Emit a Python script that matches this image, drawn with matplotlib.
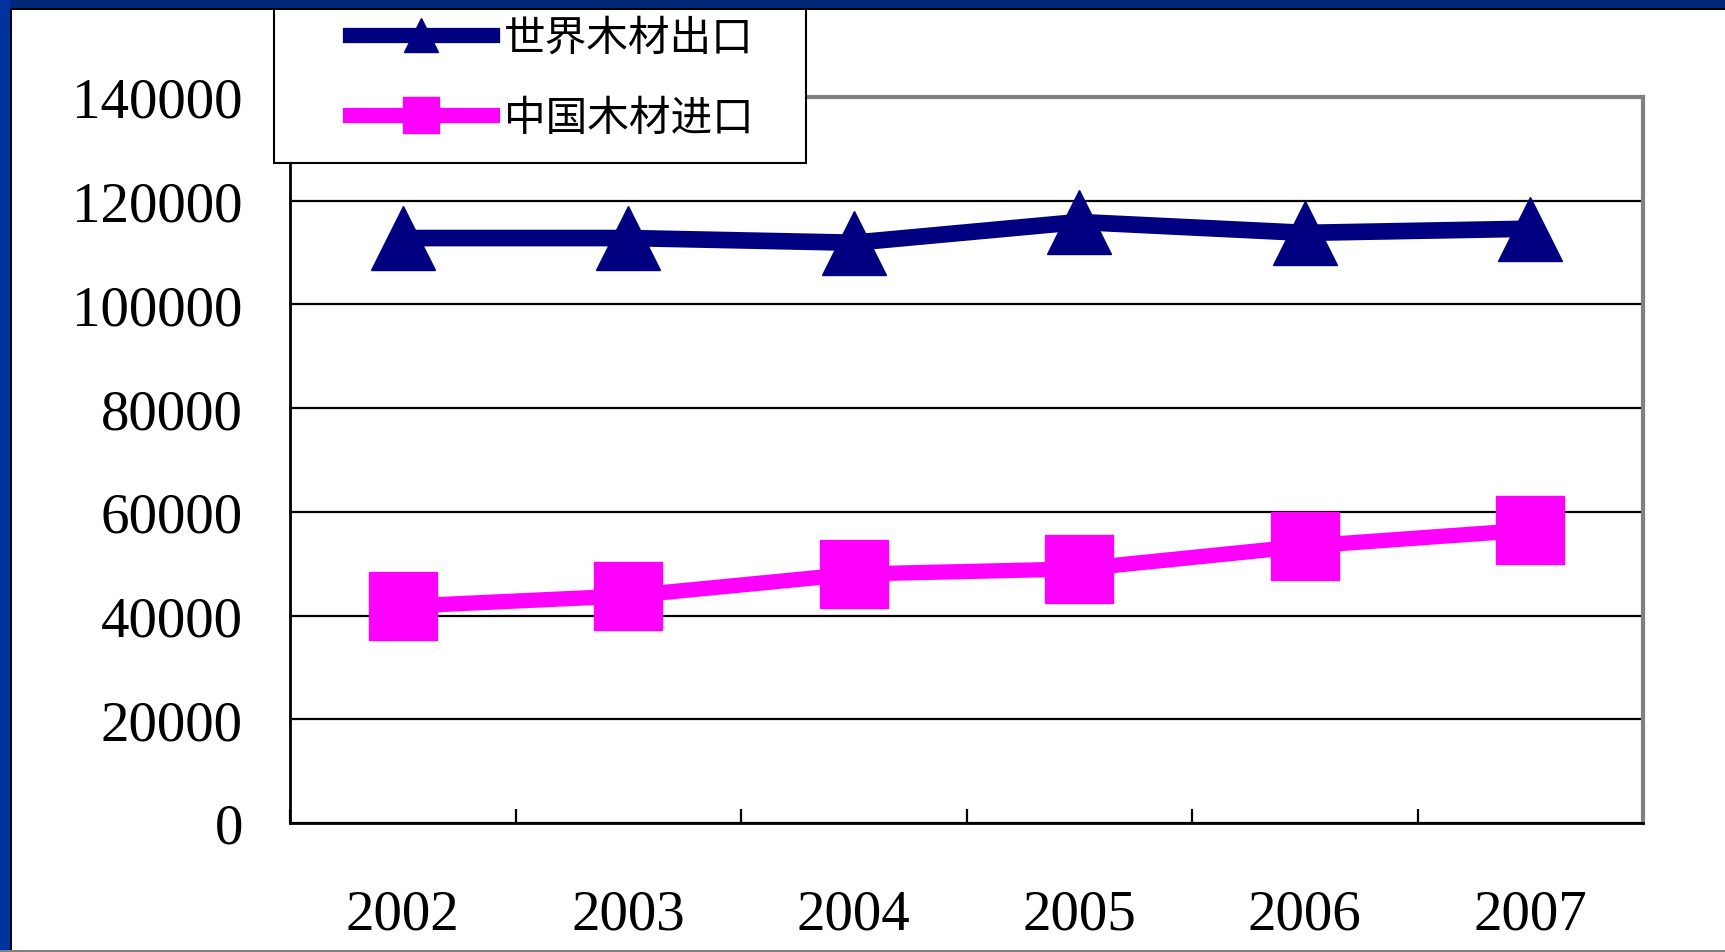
import matplotlib
matplotlib.use("Agg")
import matplotlib.pyplot as plt
from matplotlib.lines import Line2D
from matplotlib.patches import Rectangle

# ----------------------------
# Data
# ----------------------------
years = ["2002", "2003", "2004", "2005", "2006", "2007"]
world_export = [112800, 112800, 111900, 115900, 113800, 114600]
china_import = [41800, 43800, 48000, 49000, 53400, 56500]
series_names = ["世界木材出口", "中国木材进口"]
y_ticks = [0, 20000, 40000, 60000, 80000, 100000, 120000, 140000]

NAVY = "#000080"
MAGENTA = "#FF00FF"
W, H = 1725, 953

fig = plt.figure(figsize=(W / 100, H / 100), dpi=100)
fig.patch.set_facecolor("white")

# plot area in pixel coords -> figure fractions
x0, x1, ytop, ybot = 290, 1643, 98, 824
ax = fig.add_axes([x0 / W, 1 - ybot / H, (x1 - x0) / W, (ybot - ytop) / H])

xs = list(range(len(years)))
ax.plot(xs, world_export, color=NAVY, lw=12, marker="^", ms=46,
        solid_joinstyle="miter", zorder=4)
ax.plot(xs, china_import, color=MAGENTA, lw=11, marker="s", ms=49,
        solid_joinstyle="miter", zorder=3)

ax.set_xlim(-0.5, len(years) - 0.5)
ax.set_ylim(0, 140000)

# y axis
ax.set_yticks(y_ticks)
ax.set_yticklabels([str(v) for v in y_ticks])
ax.tick_params(axis="y", length=0, pad=34)
ax.grid(axis="y", color="black", lw=1.6, zorder=1)

# x axis: labels at category centres, tick marks at boundaries (inward)
ax.set_xticks(xs)
ax.set_xticklabels(years)
ax.set_xticks([i - 0.5 for i in range(len(years) + 1)], minor=True)
ax.tick_params(axis="x", which="major", length=0, pad=47)
ax.tick_params(axis="x", which="minor", direction="in", length=10,
               width=1.6, color="black")

for lab in ax.get_xticklabels() + ax.get_yticklabels():
    lab.set_family("Liberation Serif")
    lab.set_fontsize(41)

for side in ["left", "bottom"]:
    ax.spines[side].set_color("black")
    ax.spines[side].set_linewidth(2)
for side in ["top", "right"]:
    ax.spines[side].set_color("#808080")
    ax.spines[side].set_linewidth(3)
ax.set_axisbelow(True)

# ----------------------------
# Legend (frame drawn separately to match the box)
# ----------------------------
lx0, lx1, ly0, ly1 = 274, 806, 9, 164
frame = Rectangle((lx0 / W, 1 - ly1 / H), (lx1 - lx0) / W, (ly1 - ly0) / H,
                  transform=fig.transFigure, facecolor="white",
                  edgecolor="black", lw=1.5, zorder=5)
fig.add_artist(frame)

handles = [
    Line2D([], [], color=NAVY, lw=11, marker="^", ms=24),
    Line2D([], [], color=MAGENTA, lw=11, marker="s", ms=26),
]
leg = fig.legend(handles, series_names, loc="center left",
                 bbox_to_anchor=(350 / W, 1 - 79 / H),
                 frameon=False, borderpad=0, borderaxespad=0,
                 handlelength=3.4, handletextpad=0.3, labelspacing=0.95,
                 prop={"family": ["Noto Sans CJK SC", "DejaVu Sans"], "size": 30})
leg.set_zorder(6)

# ----------------------------
# Slide-style border (blue bars on top and left)
# ----------------------------
fig.add_artist(Rectangle((0, 1 - 9 / H), 1, 9 / H, transform=fig.transFigure,
                         facecolor="#00287a", edgecolor="none", zorder=10))
fig.add_artist(Rectangle((0, 1 - 11 / H), 1, 2 / H, transform=fig.transFigure,
                         facecolor="black", edgecolor="none", zorder=10))
fig.add_artist(Rectangle((0, 0), 10 / W, 1, transform=fig.transFigure,
                         facecolor="#0033a0", edgecolor="none", zorder=10))
fig.add_artist(Rectangle((10 / W, 0), 2 / W, 1 - 9 / H, transform=fig.transFigure,
                         facecolor="black", edgecolor="none", zorder=10))
fig.add_artist(Rectangle((0, 0), 1, 2 / H, transform=fig.transFigure,
                         facecolor="#808080", edgecolor="none", zorder=10))

fig.savefig("out.png", dpi=100)
